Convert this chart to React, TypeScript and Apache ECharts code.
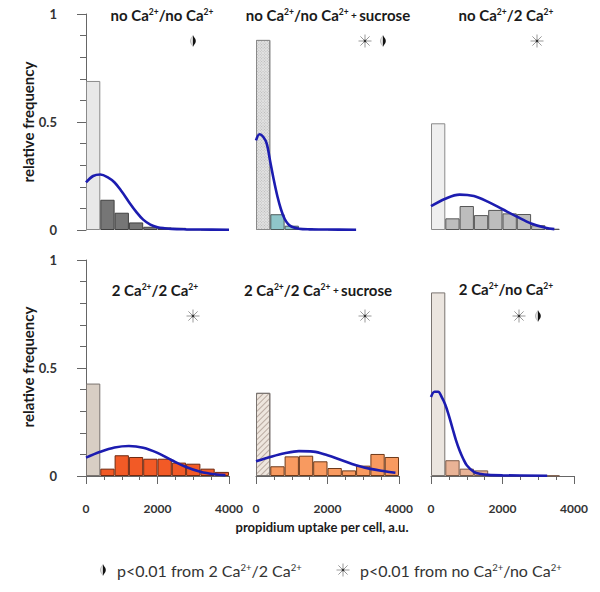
import React, { useEffect, useRef } from "react";
import * as echarts from "echarts";

// histogram bins: 400-wide bins, centres
const binCenters = [200, 600, 1000, 1400, 1800, 2200, 2600, 3000, 3400, 3800];
const xTicks = [0, 2000, 4000];

// relative frequencies per bin
const barsNoNo = [0.69, 0.14, 0.08, 0.035, 0.015, 0.012, 0.01, 0.003, 0.002, 0.002];
const barsNoNoSuc = [0.88, 0.073, 0.02, 0.008, 0.004, 0.003, 0.002];
const barsNo2 = [0.494, 0.054, 0.111, 0.069, 0.093, 0.077, 0.074, 0.022, 0.006];
const bars22 = [0.428, 0.034, 0.096, 0.088, 0.08, 0.08, 0.062, 0.057, 0.034, 0.019];
const bars22Suc = [0.385, 0.045, 0.091, 0.094, 0.068, 0.037, 0.026, 0.048, 0.102, 0.088];
const bars2No = [0.85, 0.073, 0.034, 0.026, 0.005, 0.003, 0.002, 0.002, 0.002];

// fitted curves: [uptake, frequency]
const curveNoNo = [[0, 0.22], [200, 0.25], [400, 0.257], [600, 0.245], [800, 0.22], [1000, 0.178], [1200, 0.13], [1400, 0.085], [1600, 0.048], [1800, 0.025], [2000, 0.013], [2200, 0.008], [2400, 0.005], [2800, 0.003], [3200, 0.002], [4000, 0.001]];
const curveNoNoSuc = [[0, 0.415], [100, 0.443], [200, 0.432], [300, 0.4], [400, 0.315], [500, 0.23], [600, 0.155], [700, 0.095], [800, 0.052], [900, 0.027], [1000, 0.015], [1200, 0.006], [1500, 0.003], [2000, 0.002], [2800, 0.001]];
const curveNo2 = [[0, 0.11], [400, 0.145], [800, 0.164], [1200, 0.157], [1600, 0.13], [2000, 0.096], [2400, 0.062], [2800, 0.03], [3200, 0.01], [3450, 0.004]];
const curve22 = [[0, 0.085], [400, 0.112], [800, 0.132], [1200, 0.139], [1600, 0.131], [2000, 0.107], [2400, 0.073], [2800, 0.042], [3200, 0.02], [3600, 0.008], [3900, 0.004]];
const curve22Suc = [[0, 0.068], [400, 0.088], [800, 0.105], [1200, 0.115], [1600, 0.113], [2000, 0.096], [2400, 0.073], [2800, 0.05], [3200, 0.033], [3600, 0.022], [3900, 0.015]];
const curve2No = [[0, 0.366], [100, 0.39], [200, 0.39], [300, 0.365], [400, 0.33], [500, 0.28], [600, 0.222], [700, 0.165], [800, 0.118], [900, 0.08], [1000, 0.05], [1200, 0.019], [1400, 0.009], [1600, 0.005], [2000, 0.003], [3250, 0.001]];

const FONT = "Lato, 'Open Sans', sans-serif";
const TXT = "#333";
const BLUE = "#1c1cb0";

type Panel = {
  bars: number[];
  curve: number[][];
  first: any;
  rest: any;
  left: number;
  top: number;
  row: number;
  col: number;
};

const GW = 143;
const GH = 216;

const panels: Panel[] = [
  { bars: barsNoNo, curve: curveNoNo, left: 86, top: 14, row: 0, col: 0,
    first: { color: "#e8e8e8", borderColor: "#8a8a8a" },
    rest: { color: "#767676", borderColor: "#404040" } },
  { bars: barsNoNoSuc, curve: curveNoNoSuc, left: 256, top: 14, row: 0, col: 1,
    first: { color: "#e2e2e2", borderColor: "#8a8a8a",
      decal: { symbol: "rect", symbolSize: 1, dashArrayX: [1, 1], dashArrayY: [1, 1], rotation: Math.PI / 4, color: "rgba(150,150,150,0.55)" } },
    rest: { color: "#8fc6c9", borderColor: "#4d5c5c" } },
  { bars: barsNo2, curve: curveNo2, left: 431, top: 14, row: 0, col: 2,
    first: { color: "#efefef", borderColor: "#8a8a8a" },
    rest: { color: "#bdbdbd", borderColor: "#555555" } },
  { bars: bars22, curve: curve22, left: 86, top: 260, row: 1, col: 0,
    first: { color: "#d8cec4", borderColor: "#7a7470" },
    rest: { color: "#f25a26", borderColor: "#6e2a12" } },
  { bars: bars22Suc, curve: curve22Suc, left: 256, top: 260, row: 1, col: 1,
    first: { color: "#eee6de", borderColor: "#7a7470",
      decal: { symbol: "rect", symbolSize: 1, dashArrayX: [1, 0], dashArrayY: [1, 3], rotation: -Math.PI / 4, color: "rgba(150,130,120,0.6)" } },
    rest: { color: "#f89a60", borderColor: "#6e3a1a" } },
  { bars: bars2No, curve: curve2No, left: 431, top: 260, row: 1, col: 2,
    first: { color: "#ebe5df", borderColor: "#7a7470" },
    rest: { color: "#e9b396", borderColor: "#7a5a48" } },
];

function asterisk(cx: number, cy: number) {
  const r = 6.5;
  const lines: any[] = [];
  for (let k = 0; k < 4; k++) {
    const a = (k * Math.PI) / 4;
    lines.push({
      type: "line",
      shape: { x1: cx - r * Math.cos(a), y1: cy - r * Math.sin(a), x2: cx + r * Math.cos(a), y2: cy + r * Math.sin(a) },
      style: { stroke: "#999", lineWidth: 1 },
    });
  }
  lines.push({ type: "circle", shape: { cx, cy, r: 1.3 }, style: { fill: "#333" } });
  return { type: "group", children: lines };
}

function lens(cx: number, cy: number) {
  return {
    type: "group",
    children: [
      { type: "polygon", shape: { points: [[cx, cy - 5.5], [cx - 2.2, cy - 2], [cx - 2.6, cy], [cx - 2.2, cy + 2], [cx, cy + 5.5]] }, style: { fill: "#e4e4e4", stroke: "#9a9a9a", lineWidth: 0.6 } },
      { type: "polygon", shape: { points: [[cx, cy - 5.5], [cx + 2.4, cy - 2], [cx + 2.8, cy], [cx + 2.4, cy + 2], [cx, cy + 5.5]] }, style: { fill: "#111" } },
    ],
  };
}

const rich = {
  b: { fontFamily: FONT, fontSize: 15, fontWeight: "bold", fill: "#1a1a1a" },
  sup: { fontFamily: FONT, fontSize: 8.5, fontWeight: "bold", fill: "#1a1a1a", verticalAlign: "top" },
  s: { fontFamily: FONT, fontSize: 10, fontWeight: "bold", fill: "#1a1a1a" },
  n: { fontFamily: FONT, fontSize: 16, fill: TXT },
  nsup: { fontFamily: FONT, fontSize: 9.5, fill: TXT, verticalAlign: "top" },
};

function title(text: string, x: number, y: number) {
  return { type: "text", x, y, style: { text, rich, align: "center", verticalAlign: "middle" } };
}

export default function App() {
  const ref = useRef<HTMLDivElement>(null);
  useEffect(() => {
    if (!ref.current) return;
    const chart = echarts.init(ref.current, null, { renderer: "svg" });
    const grid: any[] = [];
    const xAxis: any[] = [];
    const yAxis: any[] = [];
    const series: any[] = [];
    panels.forEach((p, i) => {
      grid.push({ left: p.left, top: p.top, width: GW, height: GH });
      xAxis.push({
        type: "value", gridIndex: i, min: xTicks[0], max: xTicks[xTicks.length - 1], interval: 2000,
        show: p.row === 1, offset: 12, position: "bottom",
        axisLine: { show: true, lineStyle: { color: "#666", width: 1 } },
        axisTick: { show: true, length: 8, lineStyle: { color: "#666" } },
        minorTick: { show: true, splitNumber: 4, length: 4, lineStyle: { color: "#666" } },
        splitLine: { show: false },
        axisLabel: { color: TXT, fontFamily: FONT, fontWeight: "bold", fontSize: 12, margin: 14, formatter: (v: number) => String(v) },
      });
      yAxis.push({
        type: "value", gridIndex: i, min: 0, max: 1, interval: 0.5,
        show: p.col === 0, offset: 17,
        axisLine: { show: true, lineStyle: { color: "#666", width: 1 } },
        axisTick: { show: true, length: 9, lineStyle: { color: "#666" } },
        minorTick: { show: true, splitNumber: 5, length: 6, lineStyle: { color: "#666" } },
        splitLine: { show: false },
        axisLabel: { color: TXT, fontFamily: FONT, fontWeight: "bold", fontSize: 13, margin: 12 },
      });
      series.push({
        type: "bar", xAxisIndex: i, yAxisIndex: i, barWidth: GW / 10,
        itemStyle: { borderWidth: 1, ...p.rest },
        data: p.bars.map((v, k) => (k === 0 ? { value: [binCenters[k], v], itemStyle: { borderWidth: 1, ...p.first } } : [binCenters[k], v])),
        silent: true,
      });
      series.push({
        type: "line", xAxisIndex: i, yAxisIndex: i, data: p.curve, smooth: 0.35,
        showSymbol: false, symbol: "none",
        lineStyle: { color: BLUE, width: 2.6 }, silent: true, z: 5,
      });
    });

    const graphic: any[] = [
      title("{b|no Ca}{sup|2+}{b|/no Ca}{sup|2+}", 162, 15),
      title("{b|no Ca}{sup|2+}{b|/no Ca}{sup|2+}{s| + }{b|sucrose}", 328, 15),
      title("{b|no Ca}{sup|2+}{b|/2 Ca}{sup|2+}", 506, 15),
      title("{b|2 Ca}{sup|2+}{b|/2 Ca}{sup|2+}", 155, 290),
      title("{b|2 Ca}{sup|2+}{b|/2 Ca}{sup|2+}{s| + }{b|sucrose}", 318, 290),
      title("{b|2 Ca}{sup|2+}{b|/no Ca}{sup|2+}", 506, 289),
      lens(193, 41),
      asterisk(365, 41), lens(383, 41),
      asterisk(537, 41),
      asterisk(193, 316),
      asterisk(365, 316),
      asterisk(519, 316), lens(538, 316),
      { type: "text", x: 28, y: 122, rotation: Math.PI / 2, style: { text: "relative frequency", font: `bold 15px ${FONT}`, fill: "#1a1a1a", align: "center", verticalAlign: "middle" } },
      { type: "text", x: 28, y: 367, rotation: Math.PI / 2, style: { text: "relative frequency", font: `bold 15px ${FONT}`, fill: "#1a1a1a", align: "center", verticalAlign: "middle" } },
      { type: "text", x: 322, y: 527, style: { text: "propidium uptake per cell, a.u.", font: `bold 13px ${FONT}`, fill: "#1a1a1a", align: "center", verticalAlign: "middle" } },
      lens(103, 570),
      { type: "text", x: 117, y: 570, style: { text: "{n|p<0.01 from 2 Ca}{nsup|2+}{n|/2 Ca}{nsup|2+}", rich, align: "left", verticalAlign: "middle" } },
      asterisk(343, 570),
      { type: "text", x: 360, y: 570, style: { text: "{n|p<0.01 from no Ca}{nsup|2+}{n|/no Ca}{nsup|2+}", rich, align: "left", verticalAlign: "middle" } },
    ];

    chart.setOption({ animation: false, backgroundColor: "#fff", grid, xAxis, yAxis, series, graphic });
    return () => chart.dispose();
  }, []);
  return <div ref={ref} style={{ position: "absolute", left: 0, top: 0, width: 600, height: 592 }} />;
}
